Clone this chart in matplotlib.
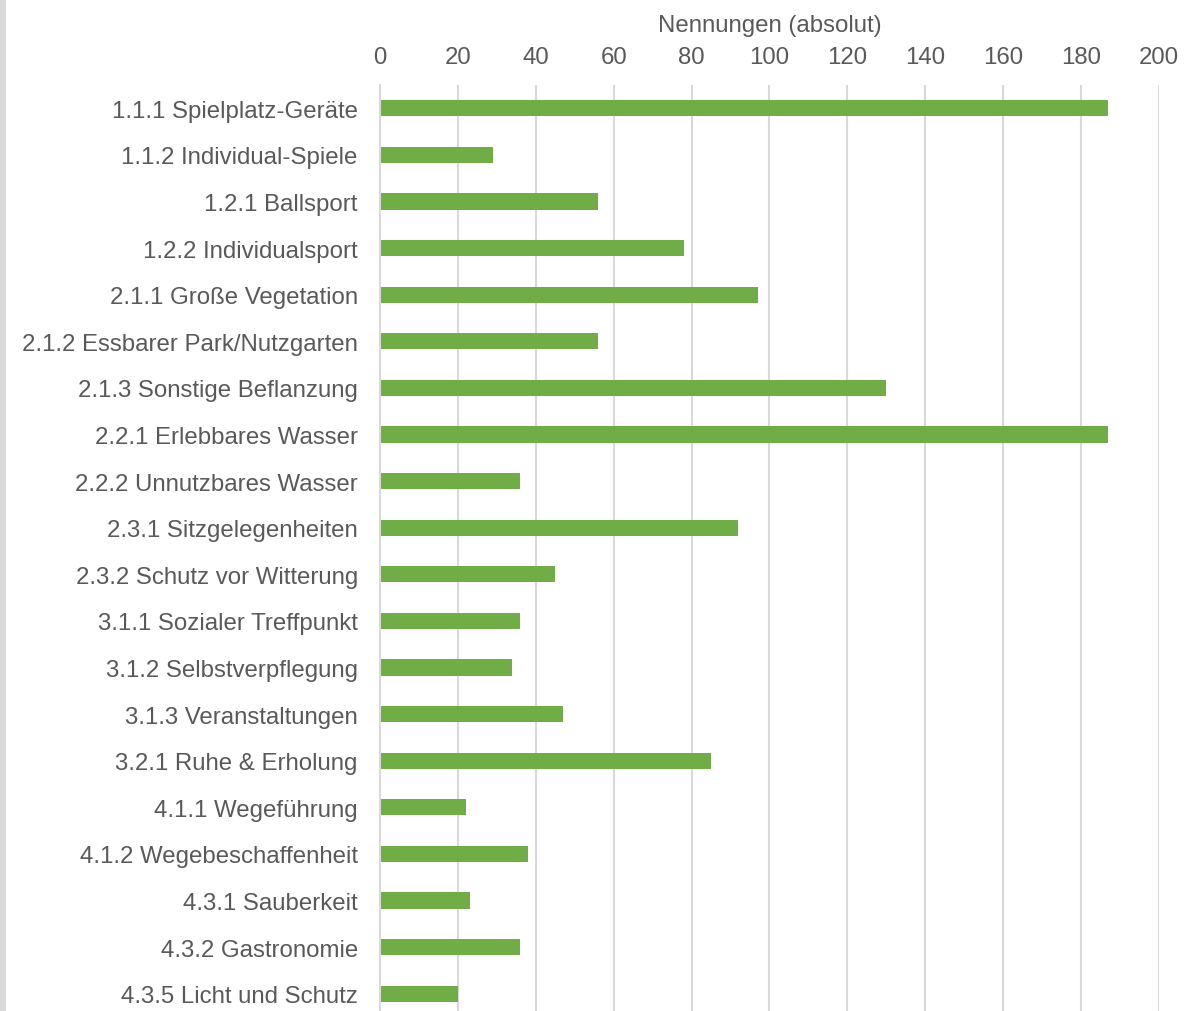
import matplotlib
matplotlib.use("Agg")
import matplotlib.pyplot as plt
from matplotlib.patches import Rectangle

categories = [
    "1.1.1 Spielplatz-Geräte",
    "1.1.2 Individual-Spiele",
    "1.2.1 Ballsport",
    "1.2.2 Individualsport",
    "2.1.1 Große Vegetation",
    "2.1.2 Essbarer Park/Nutzgarten",
    "2.1.3 Sonstige Beflanzung",
    "2.2.1 Erlebbares Wasser",
    "2.2.2 Unnutzbares Wasser",
    "2.3.1 Sitzgelegenheiten",
    "2.3.2 Schutz vor Witterung",
    "3.1.1 Sozialer Treffpunkt",
    "3.1.2 Selbstverpflegung",
    "3.1.3 Veranstaltungen",
    "3.2.1 Ruhe & Erholung",
    "4.1.1 Wegeführung",
    "4.1.2 Wegebeschaffenheit",
    "4.3.1 Sauberkeit",
    "4.3.2 Gastronomie",
    "4.3.5 Licht und Schutz",
]
values = [187, 29, 56, 78, 97, 56, 130, 187, 36, 92, 45, 36, 34, 47, 85, 22, 38, 23, 36, 20]
xticks = [0, 20, 40, 60, 80, 100, 120, 140, 160, 180, 200]
xlabel = "Nennungen (absolut)"

plt.rcParams['font.family'] = ['Liberation Sans', 'DejaVu Sans']
text_color = "#595959"
grid_color = "#d9d9d9"
bar_color = "#70ad47"
fs = 17.3

W, H = 1186, 1012
fig = plt.figure(figsize=(W / 100, H / 100), dpi=100)
fig.patches.append(Rectangle((0, 0), 6 / W, 1, transform=fig.transFigure,
                             facecolor="#d9d9d9", edgecolor="none", zorder=0))

left = 380 / W
right = 1159 / W
top = 1 - 86 / H
ax = fig.add_axes([left, 0, right - left, top])

pos = list(range(len(categories)))
ax.barh(pos, values, height=0.35, color=bar_color, zorder=3)

band = 46.6
nvis = (top * H) / band
ax.set_ylim(-0.5 + nvis, -0.5)
ax.set_xlim(0, 200)

ax.set_yticks(pos)
ax.set_yticklabels(categories, fontsize=fs, color=text_color)
ax.set_xticks(xticks)
ax.set_xticklabels([str(t) for t in xticks], fontsize=fs, color=text_color)
ax.xaxis.tick_top()
ax.xaxis.set_label_position('top')
ax.set_xlabel(xlabel, fontsize=fs, color=text_color, labelpad=11)
ax.tick_params(axis='both', length=0)
ax.tick_params(axis='x', pad=12)
ax.tick_params(axis='y', pad=16)

ax.grid(axis='x', color=grid_color, linewidth=1.5, zorder=0)
ax.set_axisbelow(True)
for s in ['top', 'right', 'bottom']:
    ax.spines[s].set_visible(False)
ax.spines['left'].set_color(grid_color)
ax.spines['left'].set_linewidth(1.5)
ax.spines['left'].set_zorder(4)

fig.savefig("out.png", dpi=100)
